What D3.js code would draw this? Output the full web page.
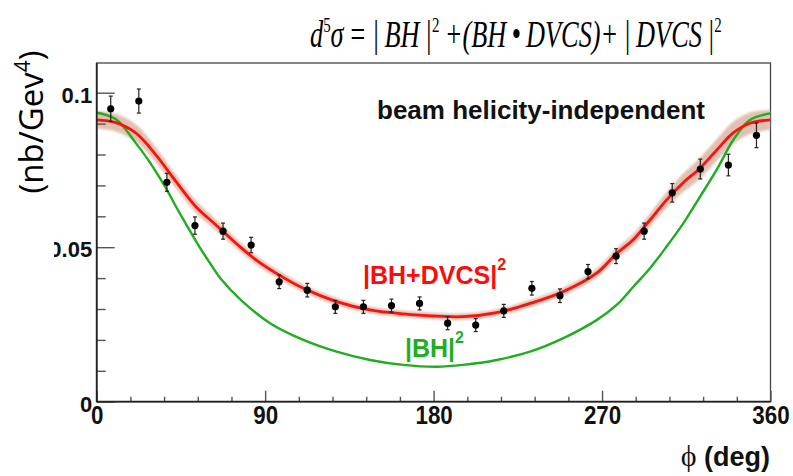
<!DOCTYPE html>
<html>
<head>
<meta charset="utf-8">
<script src="https://cdn.jsdelivr.net/npm/d3@7/dist/d3.min.js"></script>
<style>
  html, body { margin: 0; padding: 0; background: #fff; }
  svg { display: block; }
</style>
</head>
<body>
<svg id="chart" width="793" height="476"></svg>
<script>
// ---------------- data ----------------
const xTicksMajor = [0, 90, 180, 270, 360];
const xTickLabels = ["0", "90", "180", "270", "360"];
const xTicksMinor = [18, 36, 54, 72, 108, 126, 144, 162, 198, 216, 234, 252, 288, 306, 324, 342];
const yTicksMajor = [0, 0.05, 0.1];
const yTickLabels = ["0", "0.05", "0.1"];
const yTicksMinor = [0.01, 0.02, 0.03, 0.04, 0.06, 0.07, 0.08, 0.09];

// measured points
const dataPhi = [7.5, 22.5, 37.5, 52.5, 67.5, 82.5, 97.5, 112.5, 127.5, 142.5, 157.5, 172.5,
                 187.5, 202.5, 217.5, 232.5, 247.5, 262.5, 277.5, 292.5, 307.5, 322.5, 337.5, 352.5];
const dataVal = [0.0948, 0.0973, 0.0710, 0.0570, 0.0552, 0.0507, 0.0388, 0.0361, 0.0307, 0.0307, 0.0311, 0.0318,
                 0.0254, 0.0248, 0.0294, 0.0367, 0.0343, 0.0421, 0.0471, 0.0552, 0.0676, 0.0753, 0.0766, 0.0862];
const dataErr = [0.0041, 0.0039, 0.0029, 0.0028, 0.0026, 0.0025, 0.0022, 0.0022, 0.0021, 0.0021, 0.0021, 0.0021,
                 0.0021, 0.0021, 0.0021, 0.0022, 0.0022, 0.0023, 0.0024, 0.0026, 0.0030, 0.0032, 0.0035, 0.0040];

// |BH+DVCS|^2 fit curve and its error band
const redPhi = [0, 10.3, 21, 31.7, 42.4, 53, 63.7, 74.4, 85.1, 95.8, 110.4, 128.2, 146, 163.8, 181.6,
                195.7, 213.7, 231.5, 249.1, 267.1, 277.8, 286.5, 295.6, 304.5, 313.2, 322.2, 331.2, 339.9, 349, 360];
const redVal = [0.0912, 0.0903, 0.0869, 0.0798, 0.0712, 0.0631, 0.0572, 0.0513, 0.0459, 0.0416, 0.0367, 0.0324, 0.0297, 0.0284, 0.0277,
                0.0275, 0.0288, 0.0318, 0.0356, 0.0416, 0.0480, 0.0523, 0.0588, 0.0653, 0.0708, 0.0755, 0.0814, 0.0869, 0.0901, 0.0912];
const redBand = [0.0029, 0.0029, 0.0028, 0.0025, 0.0022, 0.0020, 0.0018, 0.0016, 0.0015, 0.0014, 0.0013, 0.0012, 0.0011, 0.0011, 0.0011,
                 0.0011, 0.0011, 0.0012, 0.0013, 0.0015, 0.0017, 0.0019, 0.0022, 0.0026, 0.0030, 0.0034, 0.0035, 0.0036, 0.0035, 0.0032];

// |BH|^2 curve
const greenPhi = [0, 10.3, 21, 26.3, 31.7, 37, 42.4, 47.7, 53, 58.4, 66.4, 77.1, 92.6, 110.4, 128.2, 146, 163.8, 181.6,
                  195.7, 213.7, 231.5, 249.1, 267.1, 277.8, 286.7, 295.6, 304.5, 313.4, 322.3, 331.2, 340.1, 349, 360];
const greenVal = [0.0935, 0.0914, 0.0836, 0.0793, 0.0744, 0.0691, 0.0631, 0.0575, 0.0520, 0.0468, 0.0397, 0.0329, 0.0254, 0.0200, 0.0162, 0.0135, 0.0119, 0.0113,
                  0.0119, 0.0135, 0.0162, 0.0205, 0.0264, 0.0313, 0.0372, 0.0432, 0.0502, 0.0577, 0.0663, 0.0750, 0.0847, 0.0912, 0.0933];

// ---------------- drawing ----------------
const svg = d3.select("#chart");
const L = 96.7, R = 770.5, T = 63, B = 401.7;
const x = d3.scaleLinear().domain([0, 360]).range([L, R]);
const y = d3.scaleLinear().domain([0, 0.1]).range([B, 92.7]);

const defs = svg.append("defs");
defs.append("filter").attr("id", "soft")
  .append("feGaussianBlur").attr("stdDeviation", 1.2);
defs.append("clipPath").attr("id", "plotclip")
  .append("rect").attr("x", L).attr("y", T).attr("width", R - L).attr("height", B - T);
defs.append("clipPath").attr("id", "leftcrop")
  .append("rect").attr("x", 54).attr("y", 0).attr("width", 793).attr("height", 476);

// frame
svg.append("rect").attr("x", L).attr("y", T).attr("width", R - L).attr("height", B - T)
  .attr("fill", "none").attr("stroke", "#444").attr("stroke-width", 1.3);

const plot = svg.append("g").attr("clip-path", "url(#plotclip)");

// error band
const bandIdx = d3.range(redPhi.length);
plot.append("path")
  .datum(bandIdx)
  .attr("d", d3.area()
    .x(i => x(redPhi[i]))
    .y0(i => y(redVal[i] - redBand[i]))
    .y1(i => y(redVal[i] + redBand[i]))
    .curve(d3.curveCatmullRom.alpha(0.5)))
  .attr("fill", "#d9b29e")
  .attr("opacity", 0.8)
  .attr("filter", "url(#soft)");

// green curve
plot.append("path")
  .datum(d3.range(greenPhi.length))
  .attr("d", d3.line().x(i => x(greenPhi[i])).y(i => y(greenVal[i])).curve(d3.curveCatmullRom.alpha(0.5)))
  .attr("fill", "none").attr("stroke", "#1fae1f").attr("stroke-width", 2.4);

// red curve
plot.append("path")
  .datum(bandIdx)
  .attr("d", d3.line().x(i => x(redPhi[i])).y(i => y(redVal[i])).curve(d3.curveCatmullRom.alpha(0.5)))
  .attr("fill", "none").attr("stroke", "#ff1010").attr("stroke-width", 2.8);

// axes
const axLeftMajor = d3.axisLeft(y).tickValues(yTicksMajor).tickSize(-18).tickPadding(4.5)
  .tickFormat((d, i) => yTickLabels[i]);
const axLeftMinor = d3.axisLeft(y).tickValues(yTicksMinor).tickSize(-9).tickFormat("");
const gyMinor = svg.append("g").attr("transform", `translate(${L},0)`).call(axLeftMinor);
const gyWrap = svg.append("g").attr("clip-path", "url(#leftcrop)");
const gy = gyWrap.append("g").attr("transform", `translate(${L},0)`).call(axLeftMajor);
[gy, gyMinor].forEach(g => {
  g.select(".domain").remove();
  g.selectAll(".tick line").attr("stroke", "#555").attr("stroke-width", 1.4);
});
gy.selectAll(".tick text")
  .attr("font-family", "'Liberation Sans', Arial, sans-serif")
  .attr("font-weight", "bold").attr("font-size", 22).attr("fill", "#111")
  .attr("dy", "0.32em").attr("y", 2.5);

const axBotMajor = d3.axisBottom(x).tickValues(xTicksMajor).tickSize(-11)
  .tickFormat((d, i) => xTickLabels[i]);
const axBotMinor = d3.axisBottom(x).tickValues(xTicksMinor).tickSize(-5).tickFormat("");
const gxMinor = svg.append("g").attr("transform", `translate(0,${B})`).call(axBotMinor);
const gx = svg.append("g").attr("transform", `translate(0,${B})`).call(axBotMajor);
[gx, gxMinor].forEach(g => {
  g.select(".domain").remove();
  g.selectAll(".tick line").attr("stroke", "#555").attr("stroke-width", 1.4);
});
gx.selectAll(".tick text")
  .attr("font-family", "'Liberation Sans', Arial, sans-serif")
  .attr("font-weight", "bold").attr("font-size", 26).attr("fill", "#111")
  .attr("y", 22.5).attr("dy", 0)
  .attr("transform", "scale(0.86,1)");

// axis lines (left & bottom darker)
svg.append("line").attr("x1", L).attr("x2", L).attr("y1", T).attr("y2", B).attr("stroke", "#222").attr("stroke-width", 1.8);
svg.append("line").attr("x1", L).attr("x2", R).attr("y1", B).attr("y2", B).attr("stroke", "#222").attr("stroke-width", 1.8);

// data points with error bars
const pts = svg.append("g");
const pIdx = d3.range(dataPhi.length);
pts.selectAll("line.err").data(pIdx).join("line").attr("class", "err")
  .attr("x1", i => x(dataPhi[i])).attr("x2", i => x(dataPhi[i]))
  .attr("y1", i => y(dataVal[i] - dataErr[i])).attr("y2", i => y(dataVal[i] + dataErr[i]))
  .attr("stroke", "#222").attr("stroke-width", 1.2);
pts.selectAll("line.capt").data(pIdx).join("line").attr("class", "capt")
  .attr("x1", i => x(dataPhi[i]) - 2).attr("x2", i => x(dataPhi[i]) + 2)
  .attr("y1", i => y(dataVal[i] + dataErr[i])).attr("y2", i => y(dataVal[i] + dataErr[i]))
  .attr("stroke", "#222").attr("stroke-width", 1.2);
pts.selectAll("line.capb").data(pIdx).join("line").attr("class", "capb")
  .attr("x1", i => x(dataPhi[i]) - 2).attr("x2", i => x(dataPhi[i]) + 2)
  .attr("y1", i => y(dataVal[i] - dataErr[i])).attr("y2", i => y(dataVal[i] - dataErr[i]))
  .attr("stroke", "#222").attr("stroke-width", 1.2);
pts.selectAll("circle").data(pIdx).join("circle")
  .attr("cx", i => x(dataPhi[i])).attr("cy", i => y(dataVal[i])).attr("r", 3.6)
  .attr("fill", "#000");

// labels
svg.append("text").attr("x", 377).attr("y", 119)
  .attr("font-family", "'Liberation Sans', Arial, sans-serif").attr("font-weight", "bold")
  .attr("font-size", 26).attr("fill", "#111").text("beam helicity-independent");

const redLab = svg.append("text").attr("x", 363).attr("y", 284)
  .attr("font-family", "'Liberation Sans', Arial, sans-serif").attr("font-weight", "bold")
  .attr("font-size", 25).attr("fill", "#ff0a0a");
redLab.append("tspan").text("|BH+DVCS|");
redLab.append("tspan").attr("font-size", 16).attr("dy", -14).text("2");

const greenLab = svg.append("text").attr("x", 405).attr("y", 357)
  .attr("font-family", "'Liberation Sans', Arial, sans-serif").attr("font-weight", "bold")
  .attr("font-size", 25).attr("fill", "#1fae1f");
greenLab.append("tspan").text("|BH|");
greenLab.append("tspan").attr("font-size", 16).attr("dy", -14).text("2");

// title (condensed to the original's width)
const title = svg.append("text").attr("x", 0).attr("y", 47)
  .attr("font-family", "'Liberation Serif', 'Times New Roman', serif").attr("font-style", "italic")
  .attr("font-size", 37).attr("fill", "#000");
title.append("tspan").text("d");
title.append("tspan").attr("font-style", "normal").attr("font-size", 21).attr("dy", -15).text("5");
title.append("tspan").attr("dy", 15).text("σ\u2009=\u2009|\u2009BH\u2009|");
title.append("tspan").attr("font-style", "normal").attr("font-size", 21).attr("dy", -15).text("2");
title.append("tspan").attr("dy", 15).text("\u2009+(BH\u2009•\u2009DVCS)+\u2009|\u2009DVCS\u2009|");
title.append("tspan").attr("font-style", "normal").attr("font-size", 21).attr("dy", -15).text("2");
const tw = title.node().getBBox().width;
title.attr("transform", `translate(310,0) scale(${412 / tw},1)`);

// y axis title
const yt = svg.append("text")
  .attr("transform", "translate(43,122) rotate(-90)")
  .attr("text-anchor", "middle")
  .attr("font-family", "'Open Sans', 'Noto Sans', sans-serif")
  .attr("font-size", 33).attr("fill", "#000");
yt.append("tspan").text("(nb/Gev");
yt.append("tspan").attr("font-size", 21).attr("dy", -13).text("4");
yt.append("tspan").attr("dy", 13).text(")");

// x axis title
const xt = svg.append("text").attr("x", 770).attr("y", 466).attr("text-anchor", "end")
  .attr("font-family", "'Liberation Sans', Arial, sans-serif").attr("font-size", 27).attr("fill", "#111");
xt.append("tspan").attr("font-family", "'Liberation Serif', serif").attr("font-size", 30).text("\u03D5");
xt.append("tspan").attr("font-weight", "bold").text(" (deg)");
</script>
</body>
</html>
